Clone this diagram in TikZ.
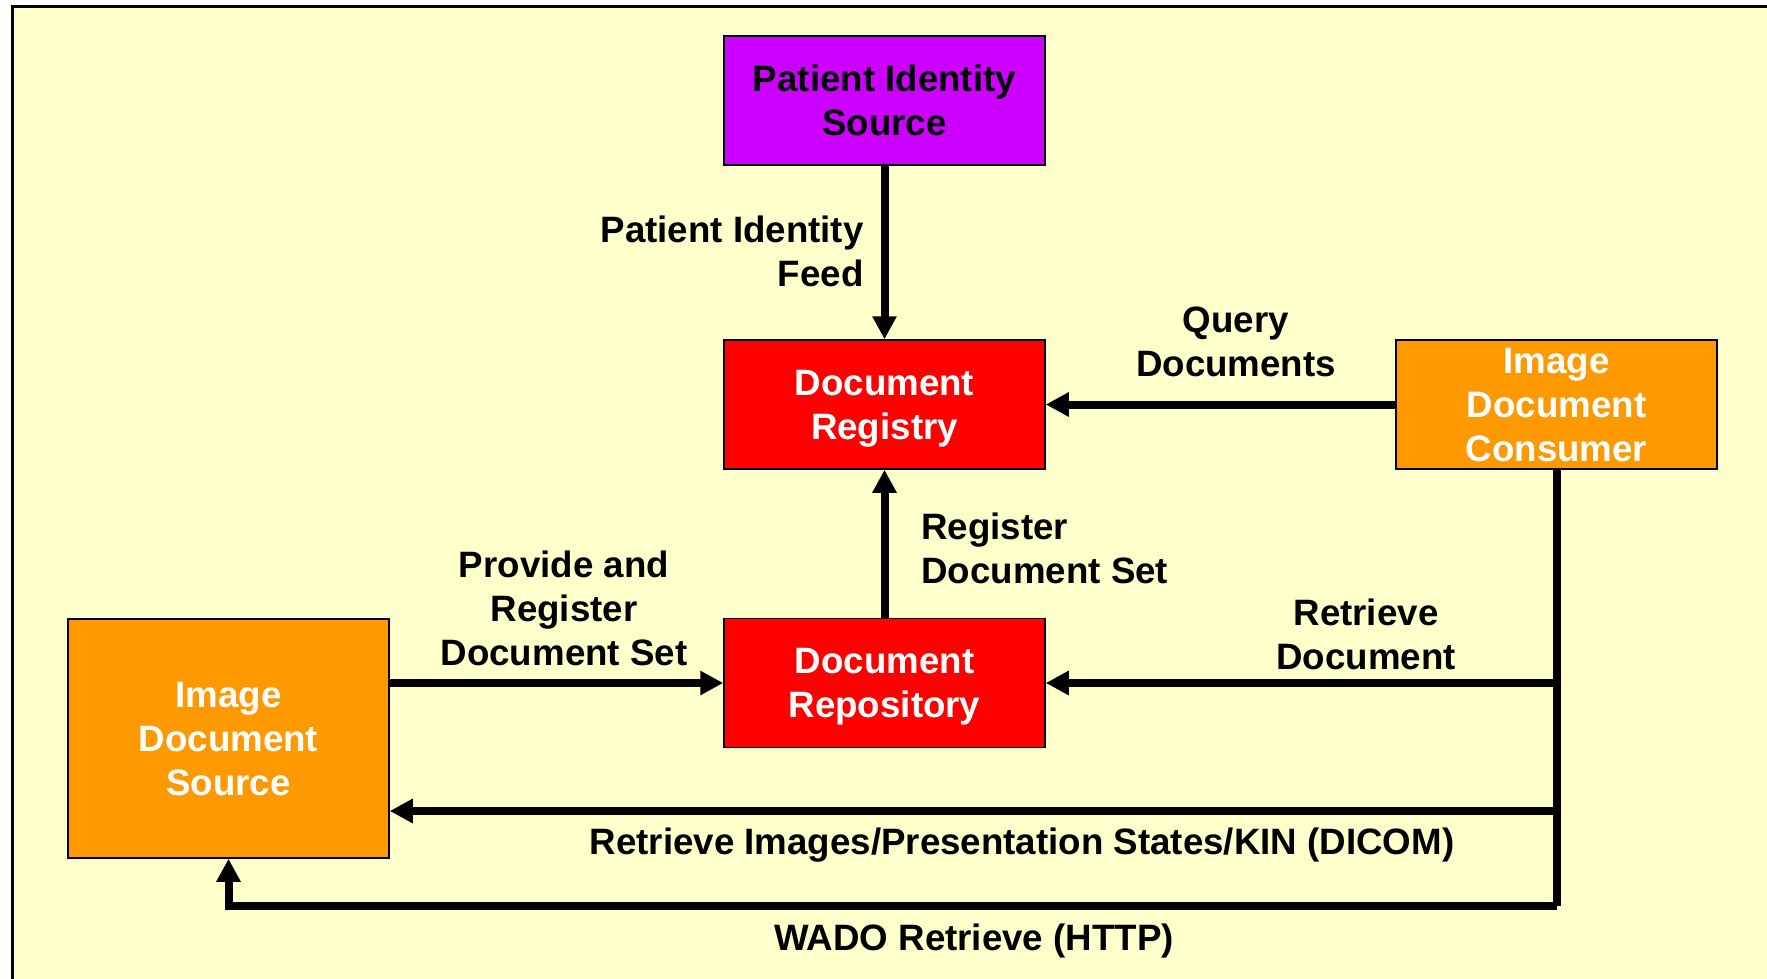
\documentclass[tikz,border=0pt]{standalone}
\usepackage{fontspec}
\setmainfont{Liberation Sans}
\usetikzlibrary{arrows.meta}
\definecolor{paper}{HTML}{FFFFCC}
\definecolor{pisviolet}{HTML}{CC00FF}
\definecolor{xdsred}{HTML}{FF0000}
\definecolor{imgorange}{HTML}{FF9900}
\begin{document}
\begin{tikzpicture}[x=0.5pt,y=-0.5pt,
        every node/.style={font=\bfseries\fontsize{18.35}{22}\selectfont},
        actor/.style={draw=black,line width=0.75pt,inner sep=0pt,align=center,text depth=0pt,minimum width=160.5pt,minimum height=64.5pt},
        flow/.style={line width=4pt,-{Triangle[width=11.5pt,length=11.5pt]}},
        link/.style={line width=4pt},
        lbl/.style={align=center,inner sep=0pt}]
        \useasboundingbox (0,0) rectangle (1767,979);
        \clip (0,0) rectangle (1767,979);
        \draw[line width=1.5pt,fill=paper] (12,7) rectangle (1790,1000);
        \node[actor,fill=pisviolet] (pis) at (884.5,100.5) {Patient Identity\\Source};
        \node[actor,fill=xdsred,text=white] (reg) at (884.5,404.5) {Document\\Registry};
        \node[actor,fill=xdsred,text=white] (rep) at (884.5,683) {Document\\Repository};
        \node[actor,fill=imgorange,text=white] (cons) at (1556.5,404.5) {Image\\Document\\Consumer};
        \node[actor,fill=imgorange,text=white,minimum height=119.5pt] (src) at (228.5,738.5) {Image\\Document\\Source};
        \coordinate (dicom) at (1556.5,811);
        \coordinate (wado) at (1556.5,906);
        \draw[flow] (pis.south) -- (reg.north);
        \draw[flow] (cons.west) -- (reg.east);
        \draw[flow] (rep.north) -- (reg.south);
        \draw[flow] (rep.west -| src.east) -- (rep.west);
        \draw[link] (cons.south) -- (wado);
        \draw[flow] (rep.east -| cons.south) -- (rep.east);
        \draw[flow] (dicom) -- (dicom -| src.east);
        \draw[flow] (wado) -| (src.south);
        \node[lbl,align=right,anchor=east] (feedlbl) at (864,251) {Patient Identity\\Feed};
        \node[lbl] (querylbl) at (1236,342) {Query\\Documents};
        \node[lbl,align=left,anchor=west] (reglbl) at (921,548) {Register\\Document Set};
        \node[lbl] (provlbl) at (564,608) {Provide and\\Register\\Document Set};
        \node[lbl] (retrlbl) at (1366,634) {Retrieve\\Document};
        \node[lbl] (dicomlbl) at (1022,845.5) {Retrieve Images/Presentation States/KIN (DICOM)};
        \node[lbl] (wadolbl) at (974,941.5) {WADO Retrieve (HTTP)};
    \end{tikzpicture}
\end{document}
